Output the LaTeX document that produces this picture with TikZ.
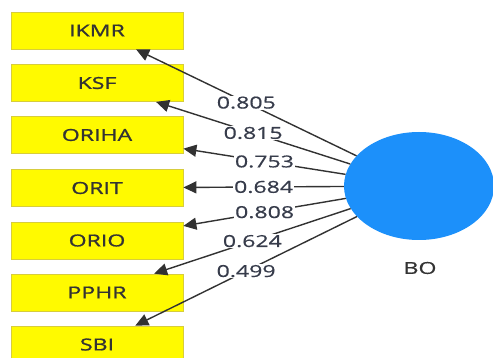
\documentclass[tikz,border=0pt]{standalone}
\usepackage{fontspec}
\setmainfont[FakeStretch=1.4]{Open Sans}
\newfontfamily\boxfont[FakeStretch=1.4,FakeBold=1.2]{Open Sans}
\newfontfamily\numfont[FakeStretch=1.4,FakeBold=0.6]{Open Sans}
\usetikzlibrary{arrows.meta,shapes.geometric}
\definecolor{boxfill}{RGB}{255,250,0}
\definecolor{boxline}{RGB}{215,205,60}
\definecolor{lvblue}{RGB}{28,144,250}
\definecolor{edgegray}{RGB}{50,50,50}
\definecolor{labelgray}{RGB}{55,60,75}
\tikzset{
  indicator/.style={draw=boxline, line width=0.8pt, fill=boxfill, minimum width=172pt,
    minimum height=37pt, inner sep=0pt, font=\boxfont\fontsize{16.5}{18}\selectfont, text=black!80},
  latent/.style={draw=none, fill=lvblue, ellipse, minimum width=150pt, minimum height=108pt, inner sep=0pt},
  loading/.style={-{Triangle[length=13pt,width=12pt]}, draw=edgegray, line width=1.4pt},
  weight/.style={fill=white, inner sep=1pt, text=labelgray, font=\numfont\fontsize{16.5}{18}\selectfont}
}
\begin{document}
\begin{tikzpicture}[x=1pt,y=-1pt]
\clip (0,0) rectangle (493,358);
\fill[white] (0,0) rectangle (493,358);

% indicator boxes
\node[indicator] (ikmr)  at (97,30.5)  {IKMR};
\node[indicator] (ksf)   at (97,83)    {KSF};
\node[indicator] (oriha) at (97,135)   {ORIHA};
\node[indicator] (orit)  at (97,188)   {ORIT};
\node[indicator] (orio)  at (97,240.5) {ORIO};
\node[indicator] (pphr)  at (97,292.5) {PPHR};
\node[indicator] (sbi)   at (97,344.5) {SBI};

% latent variable
\node[latent] (bo) at (419,186) {};
\node[font=\numfont\fontsize{16.5}{18}\selectfont, text=black!80] (bolabel) at (420,268) {BO};

% outer loadings
\draw[loading] (bo) -- node[weight] {0.805} (ikmr);
\draw[loading] (bo) -- node[weight] {0.815} (ksf);
\draw[loading] (bo) -- node[weight] {0.753} (oriha);
\draw[loading] (bo) -- node[weight] {0.684} (orit);
\draw[loading] (bo) -- node[weight] {0.808} (orio);
\draw[loading] (bo) -- node[weight] {0.624} (pphr);
\draw[loading] (bo) -- node[weight] {0.499} (sbi);
\end{tikzpicture}
\end{document}
